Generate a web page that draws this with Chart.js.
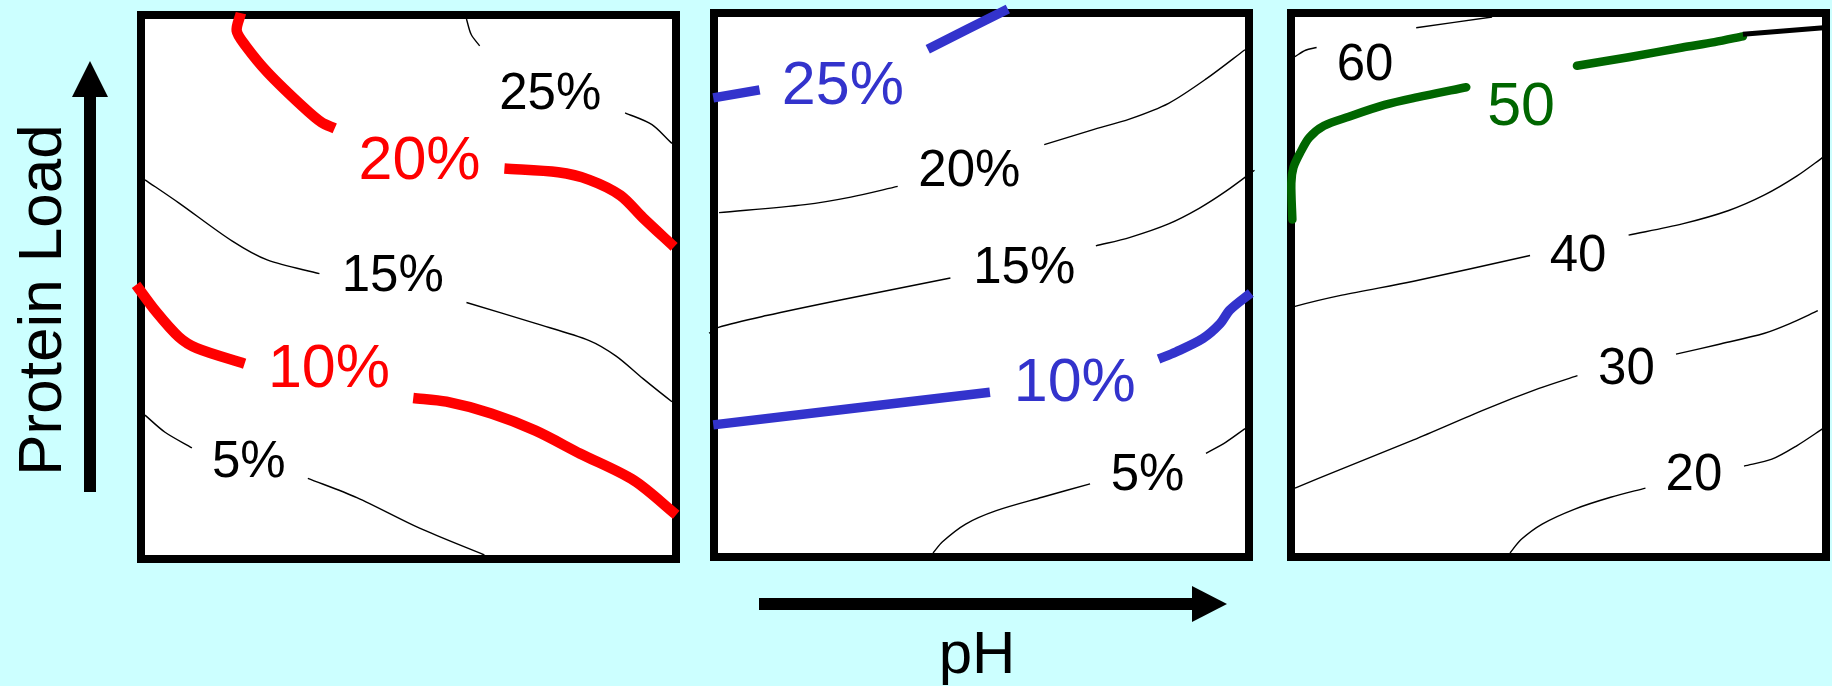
<!DOCTYPE html>
<html>
<head>
<meta charset="utf-8">
<script src="https://cdn.jsdelivr.net/npm/chart.js@4/dist/chart.umd.min.js"></script>
<style>
  html, body { margin: 0; padding: 0; background: #ccffff; width: 1832px; height: 686px; overflow: hidden; }
  body { position: relative; font-family: "Liberation Sans", Arial, sans-serif; }
  canvas { position: absolute; }
  svg.axes { position: absolute; left: 0; top: 0; }
</style>
</head>
<body>
<svg class="axes" width="1832" height="686">
  <!-- protein load arrow -->
  <rect x="84" y="95" width="12" height="397" fill="#000"/>
  <polygon points="90,61 108,97 72,97" fill="#000"/>
  <text transform="translate(61,300) rotate(-90)" text-anchor="middle"
        font-family="Liberation Sans, Arial, sans-serif" font-size="62" fill="#000">Protein Load</text>
  <!-- pH arrow -->
  <rect x="759" y="598" width="434" height="12" fill="#000"/>
  <polygon points="1227,604 1192,586 1192,622" fill="#000"/>
  <text x="977" y="673" text-anchor="middle"
        font-family="Liberation Sans, Arial, sans-serif" font-size="60" fill="#000">pH</text>
</svg>
<canvas id="p1"></canvas>
<canvas id="p2"></canvas>
<canvas id="p3"></canvas>
<script>
// Contour lines of each panel: x = pH, y = protein load, both on a 0–100 span.
// Each contour is a list of segments; the gap between segments holds its label.

// Panel 1 (% levels)
const p1Level25 = [[[61.0,100.0],[61.9,97.1],[63.5,95.0]],
                   [[91.1,82.5],[96.2,80.3],[100.0,76.8],[101.7,75.7]]];
const p1Level20 = [[[18.2,101.1],[17.4,97.8],[19.1,95.0],[23.3,90.0],[30.1,83.5],[33.5,80.7],[36.0,79.6]],
                   [[68.2,72.1],[78.4,71.4],[84.3,70.0],[90.2,67.1],[94.5,62.9],[100.4,57.5]]];
const p1Level15 = [[[0,70.0],[6.4,65.7],[16.5,58.6],[23.3,55.0],[33.1,52.5]],
                   [[61.0,47.1],[74.1,43.2],[84.3,40.0],[89.4,37.1],[94.5,32.9],[100.0,28.6],[101.7,27.5]]];
const p1Level10 = [[[-1.7,50.4],[2.1,45.4],[6.4,40.7],[9.8,38.6],[18.9,35.7]],
                   [[50.9,29.3],[57.2,28.6],[65.7,26.4],[74.1,23.2],[82.6,18.9],[92.8,13.9],[100.8,7.5]]];
const p1Level5  = [[[0,26.1],[3.8,22.9],[8.9,20.0]],
                   [[30.9,14.3],[40.2,10.7],[52.1,5.0],[64.4,0]]];
const p1Labels  = [['25%',76.9,86.6],['20%',52.1,74.3],['15%',47.0,52.7],['10%',34.9,35.4],['5%',19.7,17.9]];

// Panel 2 (% levels)
const p2Level25 = [[[-0.9,84.9],[7.9,86.4]],
                   [[39.8,94.0],[55.0,101.5]]];
const p2Level20 = [[[0.2,63.5],[16.5,65.0],[25.2,66.4],[34.1,68.4]],
                   [[61.9,76.2],[70.9,78.9],[78.2,81.0],[85.5,83.9],[92.7,88.5],[100.0,93.9]]];
const p2Level15 = [[[-1.7,41.0],[0.1,42.1],[9.2,44.3],[23.7,47.3],[44.1,51.3]],
                   [[71.7,57.3],[78.2,58.9],[85.5,61.4],[91.3,64.3],[96.4,67.5],[101.8,71.4]]];
const p2Level10 = [[[-0.9,23.9],[51.6,30.0]],
                   [[83.6,36.2],[86.9,37.5],[92.0,40.0],[95.3,42.8],[97.1,45.3],[101.1,48.5]]];
const p2Level5  = [[[40.8,0],[42.6,2.1],[47.0,5.4],[52.8,7.9],[61.5,10.4],[70.6,12.9]],
                   [[92.6,18.6],[96.4,20.7],[100.0,23.2]]];
const p2Labels  = [['25%',23.7,87.8],['20%',47.7,71.8],['15%',58.1,53.7],['10%',67.7,32.5],['5%',81.5,15.2]];

// Panel 3 (absolute levels)
const p3Level60 = [[[0,92.6],[2.0,93.8],[4.1,94.3]],
                   [[23.0,98.0],[37.4,100.0]]];
const p3Level50 = [[[-0.5,62.2],[-0.7,69.0],[-0.3,71.9],[1.0,74.7],[2.7,77.5],[5.5,79.7],[10.2,81.4],[17.0,83.6],[23.1,85.0],[32.5,86.9]],
                   [[53.5,90.9],[63.3,92.5],[73.5,94.3],[79.6,95.3],[85.0,96.4]]];
const p3Level50Tail = [[[85.0,96.8],[100.3,98.0]]];
const p3Level40 = [[[-1.3,45.3],[0,46.0],[8.9,48.1],[22.5,50.7],[44.6,55.5]],
                   [[63.3,59.3],[73.5,61.4],[82.3,63.9],[89.1,66.8],[95.2,70.3],[100.3,73.9]]];
const p3Level30 = [[[0,12.1],[8.9,15.7],[22.5,21.1],[36.1,26.8],[46.3,30.7],[53.6,33.1]],
                   [[72.3,37.1],[80.3,38.9],[89.1,41.0],[93.9,42.8],[99.2,45.2]]];
const p3Level20 = [[[40.8,0],[42.9,2.5],[46.9,5.4],[53.1,8.2],[59.9,10.4],[66.5,12.1]],
                   [[85.2,16.2],[90.5,17.5],[95.2,20.0],[100.3,23.3]]];
const p3Labels  = [['60',13.3,91.6],['50',42.9,84.0],['40',53.7,56.0],['30',62.9,35.0],['20',75.7,15.2]];

const FONT = '"Liberation Sans", Arial, sans-serif';
const THIN = { color: '#000000', width: 1.4, size: 51 };
const MEDIUM = { color: '#000000', width: 5, size: 51 };
const RED = { color: '#ff0000', width: 10.5, size: 61 };
const BLUE = { color: '#3333cc', width: 9.5, size: 61 };
const GREEN = { color: '#006600', width: 8.5, size: 61, cap: 'round' };

// White plot box with a heavy black frame
const framePlugin = {
  id: 'frame',
  beforeDatasetsDraw(chart) {
    const { ctx, chartArea: a } = chart;
    ctx.save();
    ctx.fillStyle = '#ffffff';
    ctx.fillRect(a.left, a.top, a.right - a.left, a.bottom - a.top);
    ctx.strokeStyle = '#000000';
    ctx.lineWidth = 8;
    ctx.strokeRect(a.left - 4, a.top - 4, a.right - a.left + 8, a.bottom - a.top + 8);
    ctx.restore();
  }
};

// Inline contour labels, centred on their data position
const labelPlugin = {
  id: 'contourLabels',
  afterDatasetsDraw(chart, args, opts) {
    const { ctx, scales: { x, y } } = chart;
    ctx.save();
    ctx.textAlign = 'center';
    ctx.textBaseline = 'alphabetic';
    opts.items.forEach(({ text, lx, ly, style }) => {
      ctx.font = style.size + 'px ' + FONT;
      ctx.fillStyle = style.color;
      ctx.fillText(text, x.getPixelForValue(lx), y.getPixelForValue(ly) + style.size * 0.358);
    });
    ctx.restore();
  }
};

function segmentsToDatasets(contour, style) {
  return contour.map(seg => ({
    data: seg.map(([px, py]) => ({ x: px, y: py })),
    borderColor: style.color,
    borderWidth: style.width,
    borderCapStyle: style.cap || 'butt',
    borderJoinStyle: 'round',
    tension: 0.3,
    pointRadius: 0,
    fill: false,
    clip: false
  }));
}

function makePanel(id, box, contours, labels, labelStyles) {
  const pad = 24;
  const cv = document.getElementById(id);
  cv.width = box.w + 2 * pad;
  cv.height = box.h + 2 * pad;
  cv.style.left = (box.left - pad) + 'px';
  cv.style.top = (box.top - pad) + 'px';
  const datasets = contours.flatMap(([c, style]) => segmentsToDatasets(c, style));
  const items = labels.map(([text, lx, ly], i) => ({ text, lx, ly, style: labelStyles[i] }));
  new Chart(cv, {
    type: 'line',
    data: { datasets },
    options: {
      responsive: false,
      animation: false,
      devicePixelRatio: 1,
      layout: { padding: pad },
      plugins: {
        legend: { display: false },
        tooltip: { enabled: false },
        contourLabels: { items }
      },
      scales: {
        x: { type: 'linear', min: 0, max: 100, display: false },
        y: { type: 'linear', min: 0, max: 100, display: false }
      }
    },
    plugins: [framePlugin, labelPlugin]
  });
}

makePanel('p1', { left: 145, top: 19, w: 527, h: 536 },
  [[p1Level25, THIN], [p1Level20, RED], [p1Level15, THIN], [p1Level10, RED], [p1Level5, THIN]],
  p1Labels, [THIN, RED, THIN, RED, THIN]);

makePanel('p2', { left: 718, top: 17, w: 527, h: 536 },
  [[p2Level25, BLUE], [p2Level20, THIN], [p2Level15, THIN], [p2Level10, BLUE], [p2Level5, THIN]],
  p2Labels, [BLUE, THIN, THIN, BLUE, THIN]);

makePanel('p3', { left: 1295, top: 17, w: 527, h: 536 },
  [[p3Level60, THIN], [p3Level50Tail, MEDIUM], [p3Level50, GREEN], [p3Level40, THIN], [p3Level30, THIN], [p3Level20, THIN]],
  p3Labels, [THIN, GREEN, THIN, THIN, THIN]);
</script>
</body>
</html>
